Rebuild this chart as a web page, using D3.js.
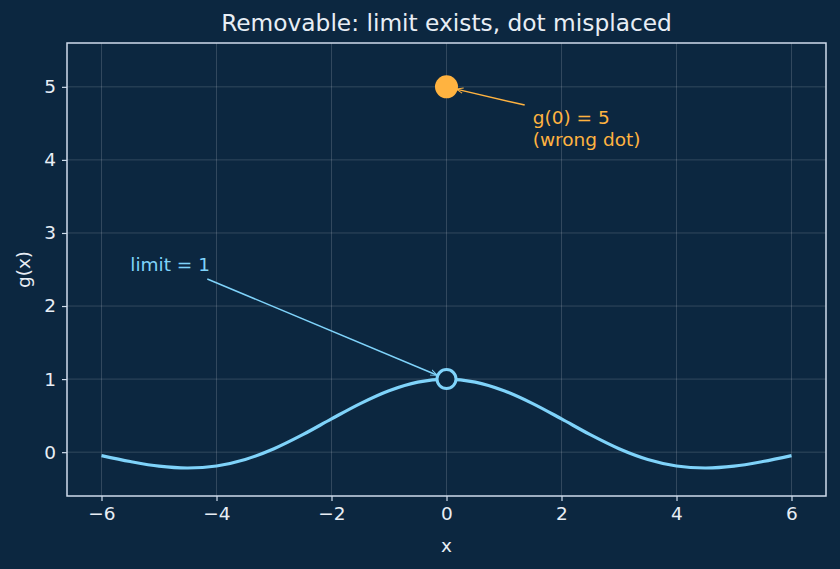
<!DOCTYPE html>
<html>
<head>
<meta charset="utf-8">
<script src="https://cdn.jsdelivr.net/npm/d3@7"></script>
<style>
  html, body { margin: 0; padding: 0; background: #0c2740; }
  svg { display: block; font-family: "DejaVu Sans", sans-serif; }
</style>
</head>
<body>
<div id="chart"></div>
<script>
const xs = [-6, -5.5, -5, -4.5, -4, -3.5, -3, -2.5, -2, -1.5, -1, -0.5, 0,
            0.5, 1, 1.5, 2, 2.5, 3, 3.5, 4, 4.5, 5, 5.5, 6];
const ys = [-0.047, -0.128, -0.192, -0.217, -0.189, -0.100, 0.047, 0.239, 0.455, 0.665, 0.841, 0.959, 1,
            0.959, 0.841, 0.665, 0.455, 0.239, 0.047, -0.100, -0.189, -0.217, -0.192, -0.128, -0.047];
const xTicks = [-6, -4, -2, 0, 2, 4, 6];
const yTicks = [0, 1, 2, 3, 4, 5];
const holePoint = [0, 1];
const wrongDot = [0, 5];
const noteWrong = { lines: ["g(0) = 5", "(wrong dot)"], at: [1.5, 4.2] };
const noteLimit = { lines: ["limit = 1"], at: [-5.5, 2.5] };

const W = 840, H = 569;
const margin = { top: 43, right: 14, bottom: 73, left: 67 };
const width = W - margin.left - margin.right;
const height = H - margin.top - margin.bottom;

const bg = "#0c2740", fg = "#e8eef5", spine = "#cfdceb";
const blue = "#7fd3fa", orange = "#ffb340";
const fs = 18.5;

const svg = d3.select("#chart").append("svg")
  .attr("width", W).attr("height", H);
svg.append("rect").attr("width", W).attr("height", H).attr("fill", bg);

const defs = svg.append("defs");
[["arrBlue", blue], ["arrOrange", orange]].forEach(([id, c]) => {
  defs.append("marker").attr("id", id)
    .attr("viewBox", "0 -5 10 10").attr("refX", 10).attr("refY", 0)
    .attr("markerWidth", 7).attr("markerHeight", 7).attr("orient", "auto")
    .attr("markerUnits", "userSpaceOnUse")
    .append("path").attr("d", "M0,-4L10,0L0,4").attr("fill", "none")
    .attr("stroke", c).attr("stroke-width", 1.4);
});

const g = svg.append("g").attr("transform", `translate(${margin.left},${margin.top})`);

const x = d3.scaleLinear().domain([-6.6, 6.6]).range([0, width]);
const y = d3.scaleLinear().domain([-0.6, 5.6]).range([height, 0]);

// grid
g.append("g").selectAll("line").data(xTicks).enter().append("line")
  .attr("x1", d => x(d)).attr("x2", d => x(d)).attr("y1", 0).attr("y2", height)
  .attr("stroke", "#ffffff").attr("stroke-opacity", 0.2).attr("stroke-width", 0.8);
g.append("g").selectAll("line").data(yTicks).enter().append("line")
  .attr("y1", d => y(d)).attr("y2", d => y(d)).attr("x1", 0).attr("x2", width)
  .attr("stroke", "#ffffff").attr("stroke-opacity", 0.2).attr("stroke-width", 0.8);

// axes
const fmt = d => d < 0 ? "\u2212" + Math.abs(d) : String(d);
const xAxis = g.append("g").attr("transform", `translate(0,${height})`)
  .call(d3.axisBottom(x).tickValues(xTicks).tickSize(5).tickPadding(6).tickFormat(fmt));
const yAxis = g.append("g")
  .call(d3.axisLeft(y).tickValues(yTicks).tickSize(5).tickPadding(6).tickFormat(fmt));
[xAxis, yAxis].forEach(a => {
  a.select(".domain").remove();
  a.selectAll("line").attr("stroke", spine).attr("stroke-width", 1.2);
  a.selectAll("text").attr("fill", fg).style("font-size", fs + "px")
    .style("font-family", "DejaVu Sans");
});

g.append("rect").attr("width", width).attr("height", height)
  .attr("fill", "none").attr("stroke", spine).attr("stroke-width", 1.5);

// curve
const pts = xs.map((v, i) => [v, ys[i]]);
g.append("path").datum(pts)
  .attr("d", d3.line().x(d => x(d[0])).y(d => y(d[1])).curve(d3.curveCatmullRom))
  .attr("fill", "none").attr("stroke", blue).attr("stroke-width", 3.2);

// annotations
function note(n, color) {
  const t = g.append("text").attr("fill", color).style("font-size", fs + "px");
  const lh = 22;
  n.lines.forEach((s, i) => {
    t.append("tspan").attr("x", x(n.at[0]))
      .attr("y", y(n.at[1]) - (n.lines.length - 1 - i) * lh + 1).text(s);
  });
}
note(noteLimit, blue);
note(noteWrong, orange);

function arrow(from, to, color, marker, shrink) {
  const x1 = x(from[0]), y1 = y(from[1]), x2 = x(to[0]), y2 = y(to[1]);
  const dx = x2 - x1, dy = y2 - y1, len = Math.hypot(dx, dy);
  g.append("line").attr("x1", x1).attr("y1", y1)
    .attr("x2", x2 - dx / len * shrink).attr("y2", y2 - dy / len * shrink)
    .attr("stroke", color).attr("stroke-width", 1.5).attr("marker-end", `url(#${marker})`);
}
arrow([-4.16, 2.37], holePoint, blue, "arrBlue", 10);
arrow([1.36, 4.75], wrongDot, orange, "arrOrange", 10);

// wrong dot and hole
g.append("circle").attr("cx", x(wrongDot[0])).attr("cy", y(wrongDot[1])).attr("r", 11.5)
  .attr("fill", orange);
g.append("circle").attr("cx", x(holePoint[0])).attr("cy", y(holePoint[1])).attr("r", 9.5)
  .attr("fill", bg).attr("stroke", blue).attr("stroke-width", 3);

// title and labels
svg.append("text").attr("x", margin.left + width / 2).attr("y", 31)
  .attr("text-anchor", "middle").attr("fill", fg).style("font-size", "23.3px")
  .text("Removable: limit exists, dot misplaced");
svg.append("text").attr("x", margin.left + x(0)).attr("y", 552)
  .attr("text-anchor", "middle").attr("fill", fg).style("font-size", fs + "px").text("x");
svg.append("text").attr("transform", `translate(30,${margin.top + height / 2}) rotate(-90)`)
  .attr("text-anchor", "middle").attr("fill", fg).style("font-size", fs + "px").text("g(x)");
</script>
</body>
</html>
